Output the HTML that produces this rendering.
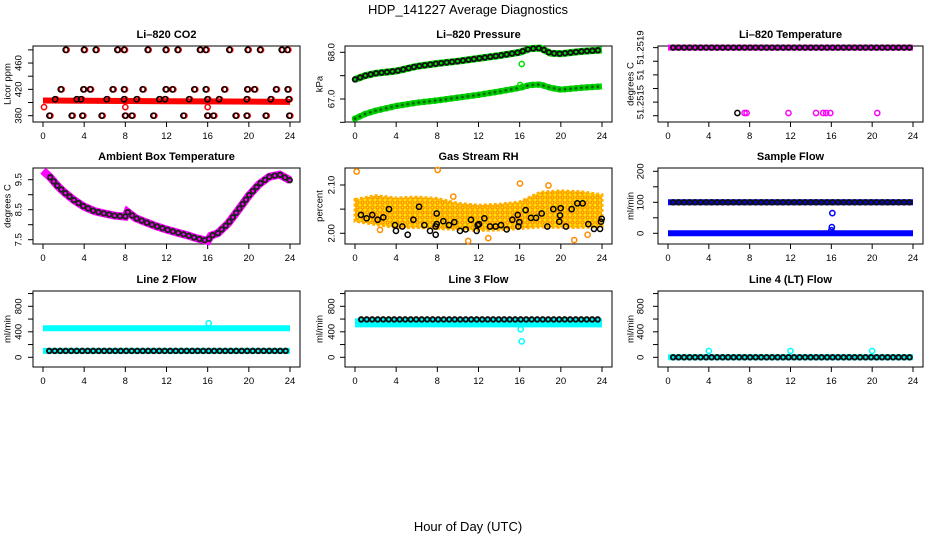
<!DOCTYPE html>
<html><head><meta charset="utf-8"><style>
body{margin:0;background:#fff;}
svg{display:block;font-family:"Liberation Sans",Arial,sans-serif;}
</style></head><body>
<svg id="c" width="936" height="540" viewBox="0 0 936 540">
<defs>
<pattern id="rhpat" width="5" height="5" patternUnits="userSpaceOnUse">
<rect width="5" height="5" fill="#ffe000"/>
<circle cx="2.5" cy="2.5" r="1.6" fill="none" stroke="#ff7a00" stroke-width="1"/>
</pattern>
</defs>
<text x="468" y="14" text-anchor="middle" font-size="13">HDP_141227  Average Diagnostics</text>
<text x="468" y="531" text-anchor="middle" font-size="13">Hour of Day (UTC)</text>
</svg>
<script>
// ---------- data ----------
const xTicks=[0,4,8,12,16,20,24];
// CO2
const co2Hours480=[2.2,3.98,5.12,7.22,7.87,10.17,11.92,13.08,15.25,15.81,18.1,19.89,21.09,23.19,23.74];
const co2Hours420=[1.72,3.92,4.57,6.77,7.87,9.68,11.92,12.57,14.7,15.81,17.62,19.85,20.53,22.64,23.77];
const co2Hours405=[1.17,3.27,3.69,6.19,7.87,9.1,11.3,11.85,14.19,15.97,17.1,19.79,22.12,23.87];
const co2Hours380=[0.62,2.79,3.82,5.7,7.97,8.62,10.72,13.64,15.97,16.55,18.72,19.79,21.64,23.93];
const co2BandHours=[0,6,12,18,24];
const co2BandValues=[403,402.5,402,401.5,401];
const co2RedOutHours=[0.1,8,16];
const co2RedOutValues=[393,393,393];
// Pressure
const presHours=[0,1,2,4,6,8,10,12,14,16,17,18,19,20,22,24];
const presBlack=[67.42,67.5,67.55,67.6,67.7,67.76,67.81,67.87,67.93,68.0,68.08,68.09,67.98,67.97,68.02,68.05];
const presGreen=[66.58,66.68,66.75,66.85,66.92,66.97,67.03,67.09,67.16,67.24,67.3,67.31,67.24,67.2,67.24,67.27];
const presOutHours=[16.2,16.05];
const presOutValues=[67.75,67.3];
// Li-820 temperature
const tempTopStart=0, tempTopEnd=24, tempTopValue=51.2519;
const tempLowMagHours=[7.5,7.7,11.8,14.5,15.2,15.5,15.9,20.5];
const tempLowBlackHours=[6.8];
const tempLowValue=51.25142;
// Ambient box temperature
const ambHours=[0,0.7,1.4,2,3,4,5,6,7,8,8.2,9,10,11,12,13,14,15,16,16.3,17,18,19,20,21,22,23,24];
const ambValues=[9.8,9.58,9.3,9.1,8.82,8.6,8.45,8.37,8.3,8.27,8.43,8.22,8.08,7.95,7.84,7.74,7.65,7.54,7.46,7.63,7.72,8.05,8.5,8.97,9.35,9.6,9.67,9.48];
// Gas stream RH
const rhEnvHours=[0,2,4,6,8,10,12,14,16,18,20,22,24];
const rhUpper=[2.07,2.078,2.073,2.075,2.072,2.062,2.058,2.06,2.065,2.085,2.088,2.086,2.08];
const rhLower=[2.025,2.018,2.012,2.012,2.01,2.008,2.006,2.007,2.01,2.013,2.012,2.012,2.014];
const rhBlackHours=[0.58,1.13,1.68,2.2,2.75,3.3,3.89,3.98,4.6,5.12,5.67,6.22,6.74,7.29,7.84,7.84,7.94,7.94,8.58,9.13,9.65,10.2,10.75,11.27,11.82,11.92,12.05,12.57,13.12,13.67,14.19,14.74,15.29,15.81,15.87,15.97,16.58,17.1,17.59,18.14,18.69,19.27,19.85,19.92,19.98,20.5,21.05,21.6,22.12,22.67,23.22,23.81,23.9,23.97];
const rhBlackValues=[2.038,2.031,2.038,2.028,2.033,2.05,2.017,2.005,2.014,1.997,2.028,2.055,2.017,2.005,1.997,2.014,2.019,2.041,2.025,2.017,2.023,2.005,2.008,2.028,2.005,2.017,2.019,2.031,2.014,2.014,2.017,2.008,2.028,2.038,2.014,2.023,2.048,2.032,2.032,2.041,2.014,2.05,2.024,2.037,2.052,2.014,2.05,2.062,2.062,2.019,2.009,2.009,2.024,2.03];
const rhOutHours=[0.16,8.03,16.03,11.0,21.3,22.6,9.55,2.43,18.8,12.95];
const rhOutValues=[2.128,2.131,2.103,1.984,1.986,1.997,2.076,2.007,2.099,1.99];
// Sample flow
const sfBlackLevel=100, sfBlueHigh=100, sfBlueLow=0;
const sfOutHours=[16.1,16.05,16.0];
const sfOutValues=[65,20,10];
// Line flows
const l2CyanLevel=455, l2LowLevel=100;
const l2OutHours=[16.1]; const l2OutValues=[535];
const l3CyanLevel=540, l3BlackLevel=595;
const l3OutHours=[16.1,16.2]; const l3OutValues=[440,250];
const l4Level=0;
const l4OutHours=[4,12,20]; const l4OutValues=[100,100,100];

// ---------- drawing ----------
const svg=document.getElementById('c');
const NS='http://www.w3.org/2000/svg';
function mk(tag,attrs,parent){const e=document.createElementNS(NS,tag);for(const k in attrs)e.setAttribute(k,attrs[k]);(parent||svg).appendChild(e);return e;}

const cols=[{bx0:33,bx1:300,px0:43,px1:290,tl:19,yl:8},{bx0:345,bx1:612,px0:355,px1:602,tl:332,yl:320},{bx0:658,bx1:923,px0:668,px1:913,tl:641,yl:631}];
const rows=[{top:46,bot:122},{top:168,bot:244},{top:291,bot:367}];

function panel(name,c,r,title,ylab,yMin,yMax,yTicks,yLabels){
  const C=cols[c],R=rows[r];
  const g=mk('g',{});
  
  
  const sx=h=>C.px0+(C.px1-C.px0)*h/24;
  const sy=v=>R.bot-(v-yMin)/(yMax-yMin)*(R.bot-R.top);
  const box=mk('rect',{x:C.bx0,y:R.top,width:C.bx1-C.bx0,height:R.bot-R.top,fill:'none',stroke:'#000','stroke-width':1},g);
  
  
  const t=mk('text',{x:(C.bx0+C.bx1)/2,y:R.top-8,'text-anchor':'middle','font-size':11,'font-weight':'bold'},g);
  t.textContent=title;
  
  
  const xa=mk('g',{},g);
  
  
  xTicks.forEach(h=>{
    mk('line',{x1:sx(h),x2:sx(h),y1:R.bot,y2:R.bot+5,stroke:'#000'},xa);
    const l=mk('text',{x:sx(h),y:R.bot+17,'text-anchor':'middle','font-size':9.5},xa);l.textContent=h;
  });
  const ya=mk('g',{},g);
  
  
  yTicks.forEach(v=>{mk('line',{x1:C.bx0-5,x2:C.bx0,y1:sy(v),y2:sy(v),stroke:'#000'},ya);});
  yLabels.forEach(v=>{
    const yy=sy(v[0]);
    const l=mk('text',{x:C.tl,y:yy,'text-anchor':'middle','font-size':9.5,transform:`rotate(-90 ${C.tl} ${yy})`,'dominant-baseline':'middle'},ya);
    l.textContent=v[1];
  });
  const yt=mk('text',{x:C.yl,y:(R.top+R.bot)/2,'text-anchor':'middle','font-size':9.5,transform:`rotate(-90 ${C.yl} ${(R.top+R.bot)/2})`,'dominant-baseline':'middle'},g);
  yt.textContent=ylab;
  
  
  return {g,sx,sy};
}
function pts(P,hours,vals,color,name,r){
  const gg=mk('g',{},P.g);
  
  
  hours.forEach((h,i)=>{mk('circle',{cx:P.sx(h),cy:P.sy(vals[i]),r:r||2.6,fill:'none',stroke:color,'stroke-width':1.5},gg);});
}
// solid thick trail, optionally overlaid with a chain of rings (outer ring colour / inner fill colour)
function chain(P,hours,vals,color,name,w,inner){
  const d=hours.map((h,i)=>(i?'L':'M')+P.sx(h).toFixed(1)+','+P.sy(vals[i]).toFixed(1)).join('');
  const gg=mk('g',{},P.g);
  
  
  if(inner){
    mk('path',{d,fill:'none',stroke:color,'stroke-width':6.5,'stroke-linecap':'round','stroke-dasharray':'0 5.5'},gg);
    mk('path',{d,fill:'none',stroke:inner,'stroke-width':2.6,'stroke-linecap':'round','stroke-dasharray':'0 5.5'},gg);
  } else {
    mk('path',{d,fill:'none',stroke:color,'stroke-width':w||6},gg);
  }
}

// CO2
let P=panel('co2',0,0,'Li\u2013820 CO2','Licor ppm',370.4,485.9,[380,400,420,440,460,480],[[380,'380'],[420,'420'],[460,'460']]);
chain(P,co2BandHours,co2BandValues,'#ff0000','co2-red-band',6);
pts(P,co2RedOutHours,co2RedOutValues,'#ff0000','co2-red-outliers');
[[co2Hours480,480],[co2Hours420,420],[co2Hours405,405],[co2Hours380,380]].forEach(([hs,v])=>{
  const vals=hs.map(()=>v);
  pts(P,hs.map(h=>h+0.1),vals,'#ff0000','co2-red-points');
  pts(P,hs,vals,'#000','co2-black-points');
});

// Pressure
P=panel('pressure',1,0,'Li\u2013820 Pressure','kPa',66.507,68.135,[66.5,67,67.5,68],[[67,'67.0'],[68,'68.0']]);
chain(P,presHours,presGreen,'#00e000','pressure-green-trail',6);
chain(P,presHours,presGreen,'#00c800','pressure-green-series',6,'#006000');
chain(P,presHours,presBlack,'#00e000','pressure-green-under-black',7);
chain(P,presHours,presBlack,'#111','pressure-black-series',5,'#00e000');
pts(P,presOutHours,presOutValues,'#00e000','pressure-outliers');

// Li-820 temperature
P=panel('li820-temp',2,0,'Li\u2013820 Temperature','degrees C',51.251354,51.251912,[51.2519,51.2518,51.2517,51.2516,51.2515,51.2514],[[51.2519,'51.2519'],[51.2517,'51'],[51.2515,'51.2515']]);
chain(P,[tempTopStart,tempTopEnd],[tempTopValue,tempTopValue],'#ff00ff','temp-magenta-series',6);
chain(P,[tempTopStart+0.5,tempTopEnd],[tempTopValue,tempTopValue],'#111','temp-black-series',5,'#ff00ff');
pts(P,tempLowMagHours,tempLowMagHours.map(()=>tempLowValue),'#ff00ff','temp-magenta-low-points');
pts(P,tempLowBlackHours,tempLowBlackHours.map(()=>tempLowValue),'#000','temp-black-low-points');

// Ambient
P=panel('ambient-temp',0,1,'Ambient Box Temperature','degrees C',7.357,9.89,[7.5,8,8.5,9,9.5],[[7.5,'7.5'],[8.5,'8.5'],[9.5,'9.5']]);
chain(P,ambHours,ambValues,'#ff00ff','ambient-magenta-series',8);
chain(P,ambHours.slice(1),ambValues.slice(1),'#222','ambient-black-series',5,'#ff00ff');

// RH
P=panel('gas-rh',1,1,'Gas Stream RH','percent',1.9778,2.1352,[2.0,2.05,2.1],[[2.0,'2.00'],[2.1,'2.10']]);
{
  const d='M'+rhEnvHours.map((h,i)=>P.sx(h).toFixed(1)+','+P.sy(rhUpper[i]).toFixed(1)).join('L')+'L'+rhEnvHours.slice().reverse().map((h,i)=>P.sx(h).toFixed(1)+','+P.sy(rhLower[rhEnvHours.length-1-i]).toFixed(1)).join('L')+'Z';
  const band=mk('path',{d,fill:'url(#rhpat)',stroke:'#ffb000','stroke-width':3,'stroke-dasharray':'3 2'},P.g);
  
  
}
pts(P,rhOutHours,rhOutValues,'#ff8c00','rh-orange-outliers');
pts(P,rhBlackHours,rhBlackValues,'#000','rh-black-points');

// Sample flow
P=panel('sample-flow',2,1,'Sample Flow','ml/min',-34.5,210.6,[0,50,100,150,200],[[0,'0'],[100,'100'],[200,'200']]);
chain(P,[0,24],[sfBlueLow,sfBlueLow],'#0000ff','sample-flow-blue-low',6);
chain(P,[0,24],[sfBlueHigh,sfBlueHigh],'#0000ff','sample-flow-blue-high',6);
chain(P,[0.5,24],[sfBlackLevel,sfBlackLevel],'#111','sample-flow-black',5,'#0000ff');
pts(P,sfOutHours,sfOutValues,'#0000ff','sample-flow-outliers');

// Line 2
const flowTicks=[0,200,400,600,800,1000], flowLabels=[[0,'0'],[400,'400'],[800,'800']];
P=panel('line2-flow',0,2,'Line 2 Flow','ml/min',-152,1040,flowTicks,flowLabels);
chain(P,[0,24],[l2CyanLevel,l2CyanLevel],'#00ffff','line2-cyan-series',6);
chain(P,[0,24],[l2LowLevel,l2LowLevel],'#00ffff','line2-cyan-low',6);
chain(P,[0.6,24],[l2LowLevel,l2LowLevel],'#111','line2-black-series',5,'#00ffff');
pts(P,l2OutHours,l2OutValues,'#00ffff','line2-outliers');

// Line 3
P=panel('line3-flow',1,2,'Line 3 Flow','ml/min',-152,1040,flowTicks,flowLabels);
chain(P,[0,24],[l3CyanLevel,l3CyanLevel],'#00ffff','line3-cyan-series',9);
chain(P,[0.6,24],[l3BlackLevel,l3BlackLevel],'#111','line3-black-series',5,'#00ffff');
pts(P,l3OutHours,l3OutValues,'#00ffff','line3-outliers');

// Line 4
P=panel('line4-flow',2,2,'Line 4 (LT) Flow','ml/min',-152,1040,flowTicks,flowLabels);
chain(P,[0,24],[l4Level,l4Level],'#00ffff','line4-cyan-series',6);
chain(P,[0.5,24],[l4Level,l4Level],'#111','line4-black-series',5,'#00ffff');
pts(P,l4OutHours,l4OutValues,'#00ffff','line4-outliers');
</script>
</body></html>
